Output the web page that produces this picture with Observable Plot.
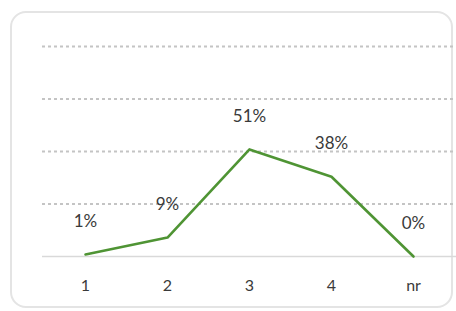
<!DOCTYPE html>
<html>
<head>
<meta charset="utf-8">
<script src="https://cdn.jsdelivr.net/npm/d3@7"></script>
<script src="https://cdn.jsdelivr.net/npm/@observablehq/plot@0.6"></script>
<style>
  html, body { margin: 0; padding: 0; background: #fff; }
  #wrap { position: relative; width: 456px; height: 311px; overflow: hidden; }
  #frame { position: absolute; left: 10px; top: 11px; width: 443px; height: 297px;
           border: 2px solid #e4e4e4; border-radius: 16px; box-sizing: border-box; }
  #chart { position: absolute; left: 0; top: 0; }
</style>
</head>
<body>
<div id="wrap"><div id="frame"></div><div id="chart"></div></div>
<script>
const categories = ["1", "2", "3", "4", "nr"];
const values = [0.01, 0.09, 0.51, 0.38, 0.00];
const labels = ["1%", "9%", "51%", "38%", "0%"];
const gridValues = [0.25, 0.5, 0.75, 1.0];

const data = categories.map((c, i) => ({cat: c, value: values[i], label: labels[i]}));

const plot = Plot.plot({
  width: 456,
  height: 311,
  marginLeft: 42,
  marginRight: 0,
  marginTop: 46,
  marginBottom: 55,
  style: {fontFamily: "Lato, 'Open Sans', sans-serif", background: "transparent", color: "#404040"},
  x: {type: "point", domain: categories, padding: 0.5, label: null},
  y: {domain: [0, 1], axis: null},
  marks: [
    Plot.ruleY(gridValues, {stroke: "#c4c4c4", strokeDasharray: "3,3", strokeWidth: 2}),
    Plot.ruleY([0], {stroke: "#d9d9d9", strokeWidth: 1.5}),
    Plot.axisX({tickSize: 0, tickPadding: 23, fontSize: 16, fill: "#3a3a3a"}),
    Plot.line(data, {x: "cat", y: "value", stroke: "#4f9434", strokeWidth: 2.6}),
    Plot.text(data, {x: "cat", y: "value", text: "label", dy: -33, fontSize: 17, fill: "#3a3a3a"})
  ]
});
document.getElementById("chart").appendChild(plot);
</script>
</body>
</html>
